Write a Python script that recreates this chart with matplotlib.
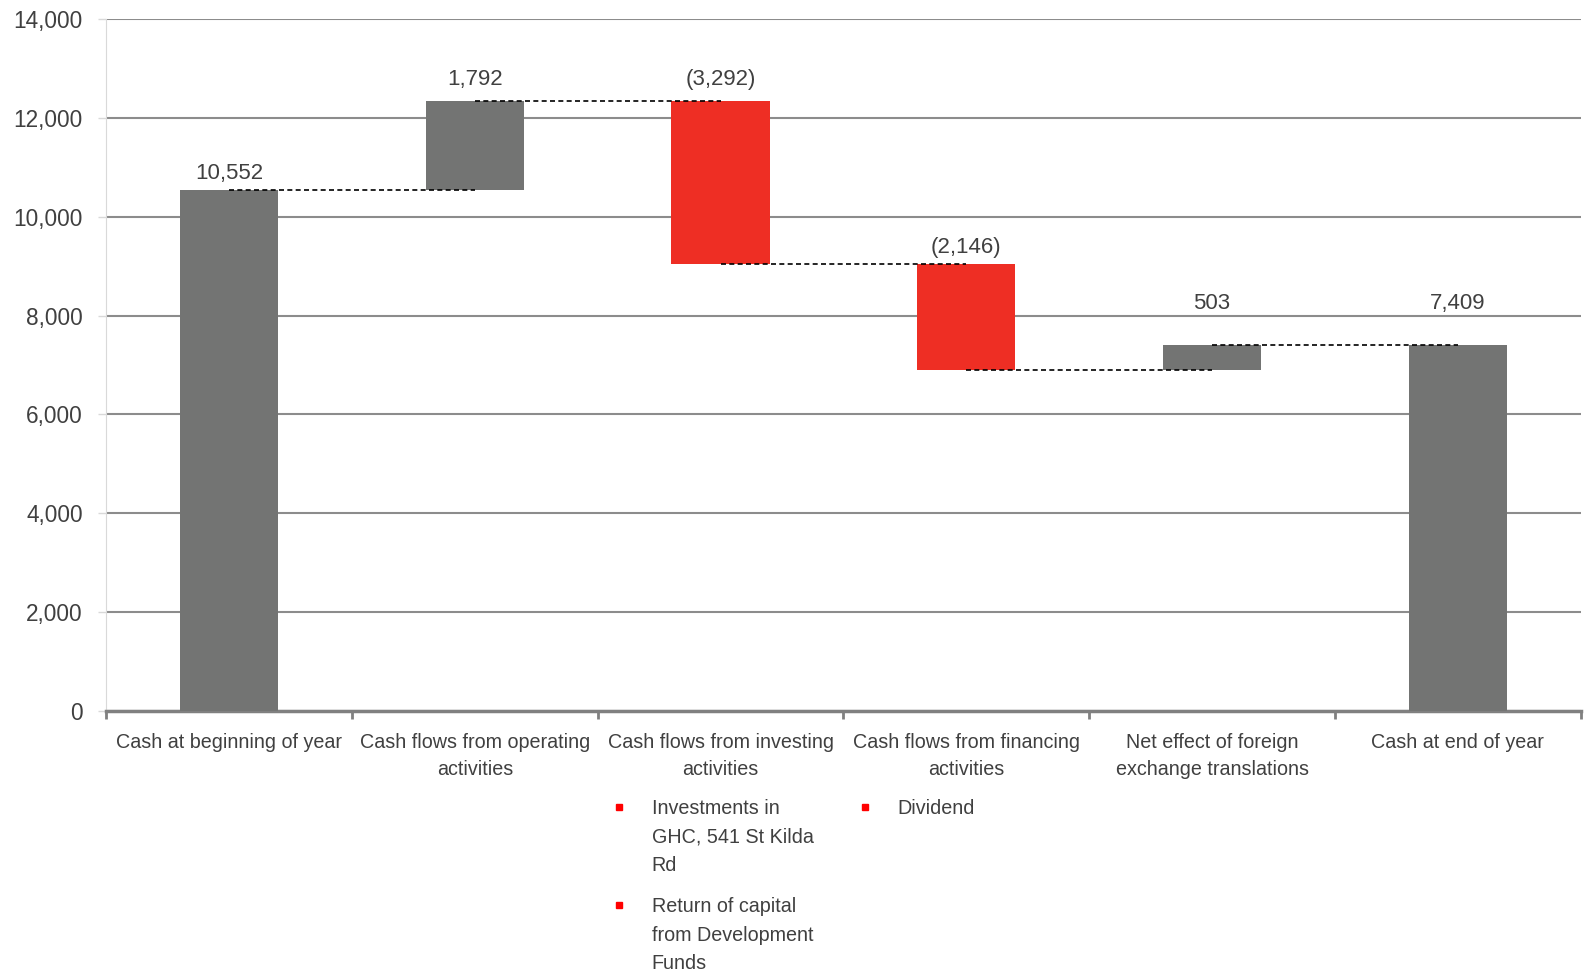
import matplotlib.pyplot as plt
import matplotlib.transforms as mtransforms

plt.rcParams['font.family'] = ['Liberation Sans Narrow', 'Liberation Sans', 'DejaVu Sans']

# categories and cash movements (in $000s)
categories = ['Cash at beginning of year', 'Cash flows from operating\nactivities',
              'Cash flows from investing\nactivities', 'Cash flows from financing\nactivities',
              'Net effect of foreign\nexchange translations', 'Cash at end of year']
changes = [10552, 1792, -3292, -2146, 503, 7409]
is_total = [True, False, False, False, False, True]
value_labels = ['10,552', '1,792', '(3,292)', '(2,146)', '503', '7,409']
yticks = [0, 2000, 4000, 6000, 8000, 10000, 12000, 14000]

notes = {2: ['Investments in\nGHC, 541 St Kilda\nRd', 'Return of capital\nfrom Development\nFunds'],
         3: ['Dividend']}

grey = '#737473'
red = '#EE2E24'
txt = '#404040'

fig = plt.figure(figsize=(15.87, 9.73), dpi=100)
ax = fig.add_axes([0.067, 0.2695, 0.929, 0.7105])

bottoms, tops = [], []
level = 0
for i, v in enumerate(changes):
    if is_total[i]:
        b, t = 0, v
        level = v
    else:
        b, t = min(level, level + v), max(level, level + v)
        level = level + v
    bottoms.append(b)
    tops.append(t)

colors = [red if (not is_total[i] and changes[i] < 0) else grey for i in range(len(changes))]
heights = [t - b for b, t in zip(bottoms, tops)]
ax.bar(range(len(changes)), heights, bottom=bottoms, width=0.4, color=colors, zorder=3)

# connectors between consecutive bars
level = 0
for i, v in enumerate(changes[:-1]):
    level = v if is_total[i] else level + v
    ax.plot([i, i + 1], [level, level], color='black', ls=(0, (3, 2)), lw=1.2, zorder=4)

# last two labels sit above the 8,000 gridline
label_pad = [4, 8, 8, 4, 22, 22]
for i, lab in enumerate(value_labels):
    ax.annotate(lab, (i, tops[i]), xytext=(0, label_pad[i]), textcoords='offset points',
                ha='center', va='bottom', fontsize=16, color=txt)

ax.set_xlim(-0.5, 5.5)
ax.set_ylim(0, 14000)
ax.set_yticks(yticks)
ax.set_yticklabels([f'{t:,}' for t in yticks], fontsize=16.3, color=txt)
ax.yaxis.grid(True, color='#8c8c8c', lw=1.5, zorder=0)
ax.set_axisbelow(True)

ax.set_xticks([i - 0.5 for i in range(7)], minor=False)
ax.set_xticklabels([])
ax.set_xticks(range(6), minor=True)
ax.set_xticklabels(categories, minor=True, fontsize=14.2, color=txt, linespacing=1.55)
ax.tick_params(axis='x', which='major', length=6, width=2, color='#808080', direction='out')
ax.tick_params(axis='x', which='minor', length=0, pad=16)
ax.tick_params(axis='y', length=6, color='#d9d9d9', width=1, pad=11)

for s in ['top', 'right']:
    ax.spines[s].set_visible(False)
ax.spines['left'].set_color('#d9d9d9')
ax.spines['bottom'].set_color('#808080')
ax.spines['bottom'].set_linewidth(2.5)

# bullet notes under the investing and financing columns
trans = mtransforms.blended_transform_factory(ax.transData, fig.transFigure)
note_y = {2: [0.1707, 0.0697], 3: [0.1707]}
for col, items in notes.items():
    for item, y in zip(items, note_y[col]):
        ax.plot([col - 0.412], [y], marker='s', ms=4.5, color='#FF0000',
                transform=trans, clip_on=False)
        ax.text(col - 0.28, y + 0.0085, item, transform=trans, fontsize=14.2,
                color=txt, va='top', ha='left', linespacing=1.65)

fig.savefig('out.png', dpi=100)
